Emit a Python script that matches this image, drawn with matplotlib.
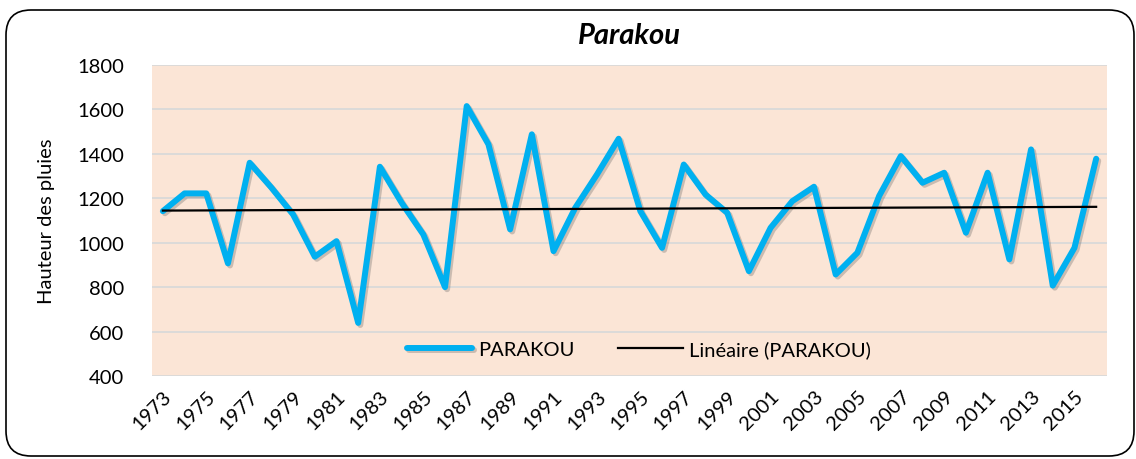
import numpy as np
import matplotlib
matplotlib.use("Agg")
import matplotlib.pyplot as plt
import matplotlib.patheffects as pe
from matplotlib.patches import FancyBboxPatch

plt.rcParams['font.family'] = ['Lato', 'DejaVu Sans']

years = list(range(1973, 2017))
rainfall = [1142, 1222, 1222, 907, 1360, 1248, 1127, 937, 1007, 639,
            1342, 1180, 1037, 800, 1615, 1443, 1060, 1488, 962, 1157,
            1307, 1468, 1142, 977, 1352, 1217, 1135, 872, 1067, 1187,
            1252, 857, 955, 1210, 1390, 1270, 1315, 1045, 1315, 925,
            1420, 807, 977, 1378]
title = "Parakou"
ylabel = "Hauteur des pluies"
series_name = "PARAKOU"
trend_name = "Linéaire (PARAKOU)"
yticks = [400, 600, 800, 1000, 1200, 1400, 1600, 1800]

W, H = 1136, 460
fig = plt.figure(figsize=(W/100, H/100), dpi=100)
fx0, fy0, fx1, fy1 = 6, 11, 1134, 457
frame = FancyBboxPatch((fx0/W, 1 - fy1/H), (fx1-fx0)/W, (fy1-fy0)/H,
                       boxstyle="round,pad=0,rounding_size=%f" % (25/W),
                       transform=fig.transFigure, facecolor='white',
                       edgecolor='black', linewidth=1.2, zorder=-10,
                       mutation_aspect=W/H)
fig.patches.append(frame)

ax = fig.add_axes([152/W, (H-377)/H, (1107-152)/W, (377-66)/H])
ax.set_facecolor('#fbe5d6')
x = np.arange(len(years))
ax.plot(x, rainfall, color='#00b0f0', lw=4.3, solid_joinstyle='round',
        solid_capstyle='round', label=series_name, zorder=3,
        path_effects=[pe.SimpleLineShadow(offset=(1.5, -1.5), shadow_color='#5a5a5a', alpha=0.3),
                      pe.Normal()])
coef = np.polyfit(x, rainfall, 1)
ax.plot(x, np.polyval(coef, x), color='black', lw=1.6, label=trend_name, zorder=4)

ax.set_xlim(-0.5, len(years) - 0.5)
ax.set_ylim(400, 1800)
ax.set_yticks(yticks)
ax.set_yticklabels([str(v) for v in yticks], fontsize=14.5)
ax.set_xticks(x[::2])
ax.set_xticklabels([str(y) for y in years[::2]], rotation=45, ha='right',
                   rotation_mode='anchor', fontsize=14.5)
ax.tick_params(axis='x', length=0, pad=8)
ax.tick_params(axis='y', length=0, pad=20)
ax.grid(axis='y', color='#d9d9d9', lw=1.3)
ax.set_axisbelow(True)
for s in ax.spines.values():
    s.set_visible(False)
ax.set_ylabel(ylabel, fontsize=14.5, labelpad=16)
ax.set_title(title, fontsize=21, fontweight='bold', fontstyle='italic', pad=16)

leg = ax.legend(loc='lower center', bbox_to_anchor=(0.51, 0.0), ncol=2, frameon=False,
                fontsize=14.5, handlelength=3.2, columnspacing=2.2, handletextpad=0.3)

fig.savefig('out.png', dpi=100)
